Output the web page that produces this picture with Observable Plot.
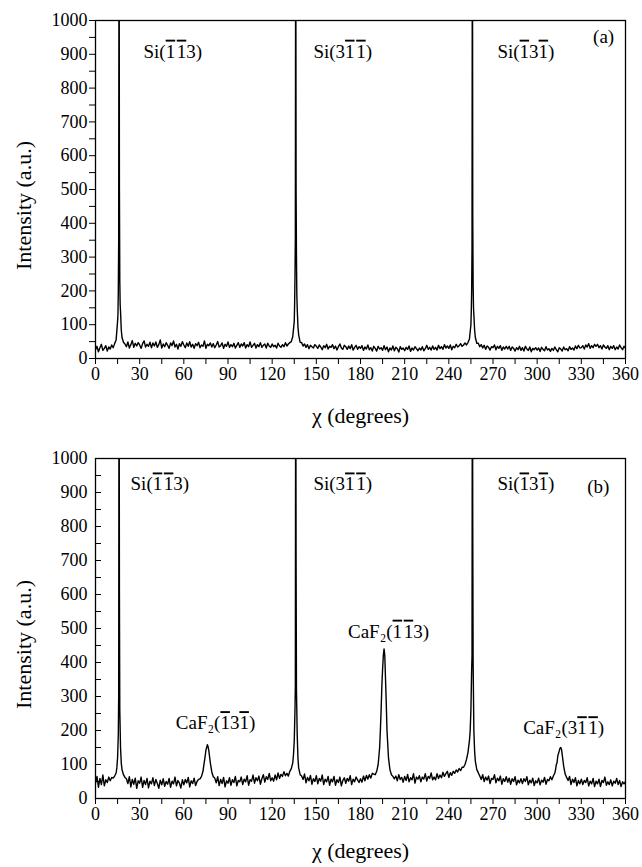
<!DOCTYPE html>
<html><head><meta charset="utf-8">
<script src="https://cdn.jsdelivr.net/npm/d3@7"></script>
<script src="https://cdn.jsdelivr.net/npm/@observablehq/plot@0.6"></script>
<style>
body{margin:0;background:#fff;overflow:hidden}
#chart{width:642px}
#chart svg{display:block}
#chart svg, #chart svg text{font-family:"Liberation Serif","Times New Roman",serif !important;}
</style>
</head><body><div id="chart"></div>
<script>
// ---- tick labels ----
const xTicks = [0,30,60,90,120,150,180,210,240,270,300,330,360];
const xMinor = [15,45,75,105,135,165,195,225,255,285,315,345];
const yTicks = [0,100,200,300,400,500,600,700,800,900,1000];
const yMinor = [50,150,250,350,450,550,650,750,850,950];

// ---- panel (a): intensity read at chi = 0,1,2,...,360 degrees ----
const intensityA = [
26,36,20,32,42,24,30,38,22,34,
28,40,32,44,55,110,1500,140,62,48,
43,35,49,31,41,53,33,45,37,47,
40,30,44,52,34,42,36,48,32,46,
37,49,33,41,55,31,43,35,47,39,
30,46,38,52,34,42,28,44,36,50,
40,32,46,36,50,34,42,30,44,38,
48,32,40,36,52,30,42,38,46,34,
44,32,40,50,34,38,46,30,42,36,
49,33,41,35,45,31,39,47,33,43,
37,47,31,41,35,49,33,39,45,31,
41,35,47,33,39,43,31,45,37,33,
43,35,39,31,45,37,33,41,35,47,
37,43,47,50,65,110,1500,150,70,48,
47,37,43,33,41,29,39,35,31,41,
36,30,40,34,26,38,32,42,28,36,
33,41,29,37,25,35,43,31,27,39,
35,27,37,29,41,25,33,39,27,35,
30,38,24,34,28,40,26,32,22,36,
30,22,36,28,32,24,38,26,34,20,
31,25,37,23,33,29,19,35,27,31,
23,33,27,37,21,31,25,35,29,23,
31,25,35,23,29,39,27,33,25,37,
27,33,25,39,29,35,27,41,31,37,
30,40,26,36,32,42,34,38,44,36,
40,46,40,47,58,100,1500,130,62,45,
45,35,41,31,39,27,37,33,25,35,
32,40,26,36,30,38,24,34,28,36,
28,36,24,34,30,22,32,26,36,24,
32,22,36,28,24,34,20,30,26,32,
25,31,21,33,27,23,35,25,29,21,
30,24,34,26,20,32,28,22,34,26,
29,23,35,27,31,25,37,29,39,31,
32,38,28,40,34,44,30,38,32,42,
36,42,32,38,28,40,34,30,38,26,
36,30,38,26,34,28,40,32,26,36,
31
];
// extra readings around the sharp Si peaks of (a)
const peakChiA = [15.25,15.5,15.75,16.25,16.5,16.75,17.5, 135.25,135.5,135.75,136.25,136.5,136.75,137.5, 255.25,255.5,255.75,256.25,256.5,256.75,257.5];
const peakIntA = [130,200,350,500,230,160,85, 160,240,360,500,300,190,95, 140,200,330,420,220,150,85];

// ---- panel (b): intensity read at chi = 0,1,2,...,360 degrees ----
const intensityB = [
45,65,33,59,41,69,37,55,47,63,
52,62,60,66,75,120,1500,150,85,70,
62,58,44,64,34,56,42,60,30,52,
45,63,33,53,41,59,31,51,43,61,
38,56,44,30,54,40,58,36,50,42,
59,33,51,43,63,37,53,45,31,55,
40,56,46,62,34,52,44,60,38,50,
56,58,65,80,110,142,158,140,105,78,
64,60,46,64,38,56,44,62,34,52,
45,61,39,55,47,65,37,53,49,63,
41,57,49,67,39,55,51,69,45,61,
52,66,42,58,70,48,64,56,74,52,
61,51,69,55,75,59,71,65,79,67,
74,66,80,88,105,170,1500,190,90,70,
66,56,72,46,62,52,68,42,58,50,
67,43,59,51,69,41,57,49,65,39,
57,49,65,39,55,47,63,37,53,61,
45,59,51,67,41,57,49,63,55,47,
58,48,66,52,68,57,70,60,74,72,
70,80,100,150,260,380,440,350,200,120,
85,70,65,58,66,52,70,56,62,48,
65,53,71,49,61,55,73,45,63,57,
67,49,63,57,73,51,65,59,75,55,
63,55,73,59,69,61,77,65,73,80,
62,76,68,80,74,84,78,88,82,92,
92,100,115,135,170,260,1500,200,110,85,
76,66,56,70,50,63,54,66,44,59,
56,70,46,60,52,66,42,58,50,64,
48,60,42,58,50,64,40,54,46,58,
44,58,50,64,40,54,46,60,38,52,
46,60,40,54,48,62,42,56,52,64,
55,66,75,100,125,140,150,130,95,72,
62,53,65,41,57,47,61,37,53,43,
57,41,53,47,61,37,51,43,59,35,
51,43,57,35,53,47,63,39,49,41,
55,37,51,45,59,41,53,35,49,43,
50
];
const peakChiB = [14.5,15.5,15.75,16.25,16.5,17.5, 73.5,74.5,75.5,76.5,77.5, 134.5,135.5,135.75,136.25,136.5,137.5, 193.5,194.5,195.5,196.5,197.5, 254.5,255.5,255.75,256.25,256.5,256.75,257.5, 312.5,313.5,315.5,316.5];
const peakIntB = [90,190,300,600,260,105, 95,125,150,152,122, 130,260,330,700,320,120, 200,330,420,420,280, 200,380,420,800,400,300,140, 85,105,148,145];

// ---- annotations (combining macron = bar over the index) ----
const labelsA = ["Si(1\u03041\u03043)", "Si(31\u03041\u0304)", "Si(1\u030431\u0304)", "(a)"];
const labelChiA = [32.6, 148, 273, 338];
const labelIntA = [890, 890, 890, 932];
const labelsB = ["Si(1\u03041\u03043)", "Si(31\u03041\u0304)", "Si(1\u030431\u0304)", "(b)"];
const labelChiB = [23.8, 148, 273, 334];
const labelIntB = [906, 906, 906, 900];
const caLabels = ["CaF\u2082(1\u030431\u0304)", "CaF\u2082(1\u03041\u03043)", "CaF\u2082(31\u03041\u0304)"];
const caChi = [81.5, 199, 318];
const caInt = [204, 473, 189];

const xTitle = "\u03c7 (degrees)";
const yTitle = "Intensity (a.u.)";

function series(base, fineChi, fineInt) {
  const pts = base.map((v, i) => ({chi: i, v}));
  fineChi.forEach((c, j) => pts.push({chi: c, v: fineInt[j]}));
  return pts.sort((a, b) => a.chi - b.chi);
}
function rows(texts, chis, ints) {
  return texts.map((t, i) => ({t, chi: chis[i], v: ints[i]}));
}

const FONT = "Liberation Serif, Times New Roman, serif";

function panel({data, labels, extra, height, marginTop, marginBottom, inwardY, titleDy}) {
  const marks = [
    Plot.line(data, {x: "chi", y: "v", stroke: "black", strokeWidth: 1.4, clip: true}),
    Plot.frame({stroke: "black", strokeWidth: 1.3}),
    Plot.axisX(xTicks, {tickSize: 6, tickPadding: 3, tickFormat: d => String(d), fontSize: 18}),
    Plot.axisX(xMinor, {tickSize: 6, tickFormat: () => ""}),
    Plot.axisY(yTicks, {tickSize: 0, tickPadding: 8, tickFormat: d => String(d), fontSize: 18}),
    Plot.axisY(yTicks.concat(yMinor), {tickSize: 6, dx: inwardY ? 6 : 0, tickFormat: () => ""}),
    Plot.text(labels, {x: "chi", y: "v", text: "t", textAnchor: "start", lineAnchor: "bottom", fontSize: 19}),
    Plot.text([xTitle], {text: d => d, frameAnchor: "bottom", textAnchor: "middle", lineAnchor: "middle", dy: titleDy, fontSize: 22}),
    Plot.text([yTitle], {text: d => d, frameAnchor: "left", textAnchor: "middle", lineAnchor: "middle", dx: -72, dy: 16, rotate: -90, fontSize: 22})
  ];
  if (extra) marks.push(Plot.text(extra, {x: "chi", y: "v", text: "t", textAnchor: "middle", lineAnchor: "bottom", fontSize: 19}));
  return Plot.plot({
    width: 642, height, marginTop, marginBottom, marginLeft: 95, marginRight: 17,
    x: {domain: [0, 360], label: null},
    y: {domain: [0, 1000], label: null},
    style: {fontFamily: FONT, fontSize: "18px", color: "black", background: "white", overflow: "visible"},
    marks
  });
}

// turn "digit + combining macron" into a separately overlined digit
function decorate(svg) {
  const NS = "http://www.w3.org/2000/svg";
  svg.querySelectorAll("text").forEach(t => {
    const s = t.textContent;
    if (!s.includes("\u0304")) return;
    t.textContent = "";
    let prevBar = false;
    for (let i = 0; i < s.length; i++) {
      const c = s[i];
      if (s[i + 1] === "\u0304") {
        if (prevBar) t.appendChild(document.createTextNode("\u200A"));
        const sp = document.createElementNS(NS, "tspan");
        sp.setAttribute("style", "text-decoration: overline; text-decoration-thickness: 1.2px");
        sp.textContent = c;
        t.appendChild(sp);
        i++;
        prevBar = true;
      } else {
        t.appendChild(document.createTextNode(c));
        prevBar = false;
      }
    }
  });
  return svg;
}

const chart = document.getElementById("chart");
chart.append(decorate(panel({
  data: series(intensityA, peakChiA, peakIntA),
  labels: rows(labelsA, labelChiA, labelIntA),
  height: 430, marginTop: 20, marginBottom: 72, inwardY: false, titleDy: 57
})));
chart.append(decorate(panel({
  data: series(intensityB, peakChiB, peakIntB),
  labels: rows(labelsB, labelChiB, labelIntB),
  extra: rows(caLabels, caChi, caInt),
  height: 437, marginTop: 28, marginBottom: 69, inwardY: true, titleDy: 52
})));
</script></body></html>
